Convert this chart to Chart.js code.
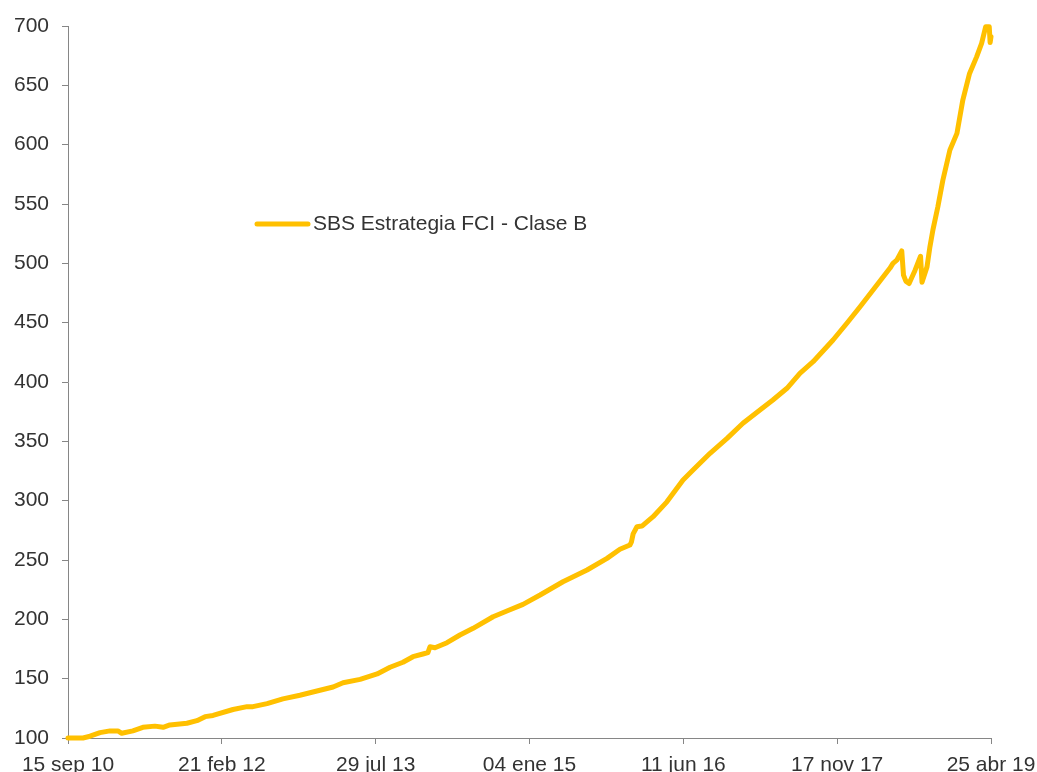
<!DOCTYPE html>
<html lang="es">
<head>
<meta charset="utf-8">
<title>SBS Estrategia FCI - Clase B</title>
<script src="https://cdn.jsdelivr.net/npm/chart.js@4.4.1/dist/chart.umd.min.js"></script>
<style>
  html, body { margin:0; padding:0; background:#fff; overflow:hidden; }
  #wrap { position:absolute; left:0; top:0; width:1060px; height:790px; }
</style>
</head>
<body>
<div id="wrap"><canvas id="grafico"></canvas></div>
<script>
// ── Datos ────────────────────────────────────────────────────
// días desde el 15 sep 10 (inicio del eje) y valor cuota (base 100)
const dias = [
  0, 51, 75, 109, 143, 170, 183, 221, 255, 296, 324, 347, 405, 439, 467, 494,
  562, 610, 630, 678, 732, 790, 848, 903, 937, 995, 1053, 1097, 1141, 1175, 1209, 1226,
  1233, 1250, 1291, 1335, 1380, 1448, 1495, 1550, 1608, 1686, 1768, 1836, 1880, 1914, 1919, 1925,
  1938, 1955, 1993, 2040, 2095, 2129, 2187, 2245, 2299, 2357, 2401, 2449, 2493, 2538, 2606, 2653,
  2698, 2756, 2800, 2810, 2824, 2840, 2846, 2854, 2865, 2885, 2904, 2909, 2926, 2936, 2946, 2963,
  2980, 3004, 3028, 3048, 3071, 3095, 3112, 3126, 3138, 3141, 3144
];
const valores = [
  100, 100, 101.5, 104.5, 106, 106, 104, 106, 109, 110, 109, 111, 112.4, 114.6, 118, 119,
  124, 126.4, 126.4, 129, 133, 136, 139.6, 143, 146.6, 149.4, 154, 159.6, 163.8, 168.5, 170.8, 172,
  176.9, 176, 180.3, 186.8, 192.4, 202.2, 207, 212.6, 220.5, 231.7, 241.6, 251.4, 259, 262.6, 265, 272,
  278, 278.6, 286.5, 299, 317.4, 325.8, 339.9, 352.5, 365.2, 376.4, 384.8, 394.7, 407.3, 417.1, 435.4, 449.5,
  463.4, 482, 496, 500, 503, 510.5, 490, 485, 483, 494, 506, 484, 497, 514, 528, 547.7,
  570, 595.5, 609.5, 637.6, 660, 674, 685.4, 699.4, 699.4, 686, 691
];
const etiquetasX = ['15 sep 10','21 feb 12','29 jul 13','04 ene 15','11 jun 16','17 nov 17','25 abr 19'];
const pasoX = 524;      // días entre etiquetas
const ticksY = { min:100, max:700, paso:50 };
const nombreSerie = 'SBS Estrategia FCI - Clase B';

const AMARILLO = '#FFC000';
const GRIS_EJE = '#868686';
const TEXTO    = '#333333';
const FUENTE   = { family:'"Liberation Sans", Arial, sans-serif', size:21 };

// ── Leyenda dentro del área ──────────────────────────────────
const leyendaInterna = {
  id: 'leyendaInterna',
  afterDraw(chart) {
    const ctx = chart.ctx;
    const ds  = chart.data.datasets[0];
    ctx.save();
    ctx.strokeStyle = ds.borderColor;
    ctx.lineWidth   = 5;
    ctx.lineCap     = 'round';
    ctx.beginPath(); ctx.moveTo(257, 224); ctx.lineTo(308, 224); ctx.stroke();
    ctx.fillStyle    = TEXTO;
    ctx.font         = `${FUENTE.size}px ${FUENTE.family}`;
    ctx.textBaseline = 'middle';
    ctx.fillText(ds.label, 313, 224);
    ctx.restore();
  }
};

// ── Gráfico ──────────────────────────────────────────────────
new Chart(document.getElementById('grafico'), {
  type: 'line',
  data: {
    datasets: [{
      label: nombreSerie,
      data: dias.map((d, i) => ({ x:d, y:valores[i] })),
      borderColor: AMARILLO, backgroundColor: AMARILLO,
      borderWidth: 5, pointRadius: 0, tension: 0,
      borderJoinStyle: 'round', borderCapStyle: 'round', clip: false
    }]
  },
  options: {
    responsive: true, maintainAspectRatio: false, animation: false,
    layout: { padding: { top:26, right:69, left:0, bottom:0 } },
    plugins: { legend:{ display:false }, tooltip:{ enabled:false } },
    scales: {
      x: {
        type: 'linear', min: 0, max: pasoX * (etiquetasX.length - 1),
        afterFit: s => { s.height = 52; },
        grid: { drawOnChartArea:false, drawTicks:true, tickLength:6, color:GRIS_EJE },
        border: { color:GRIS_EJE, width:1 },
        ticks: {
          stepSize: pasoX, autoSkip:false, maxRotation:0, padding:9,
          color: TEXTO, font: FUENTE,
          callback: (v) => etiquetasX[Math.round(v / pasoX)]
        }
      },
      y: {
        min: ticksY.min, max: ticksY.max,
        afterFit: s => { s.width = 68; },
        grid: { drawOnChartArea:false, drawTicks:true, tickLength:6, color:GRIS_EJE },
        border: { color:GRIS_EJE, width:1 },
        ticks: { stepSize: ticksY.paso, padding:13, color: TEXTO, font: FUENTE }
      }
    }
  },
  plugins: [leyendaInterna]
});
</script>
</body>
</html>
